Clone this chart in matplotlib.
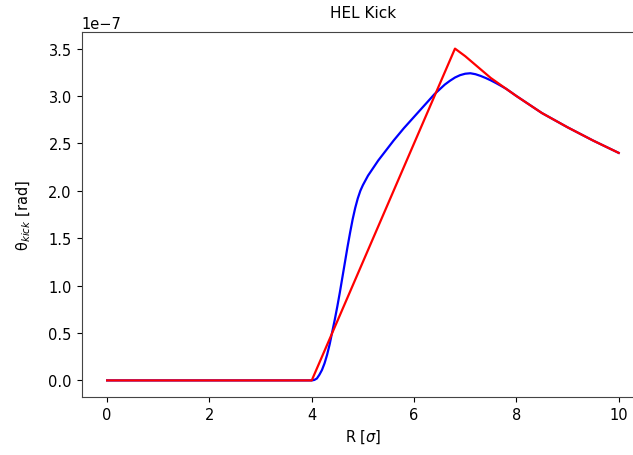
#!/usr/bin/env python3

import numpy as np
import matplotlib.pyplot as plt

# Blue curve (smooth kick), values in units of 1e-7 rad
r_blue = [0.0, 1.0, 2.0, 3.0, 4.0, 4.05, 4.1, 4.15, 4.2, 4.25, 4.3, 4.35, 4.4, 4.45,
          4.5, 4.55, 4.6, 4.65, 4.7, 4.75, 4.8, 4.85, 4.9, 4.95, 5.0, 5.1, 5.2,
          5.3, 5.4, 5.6, 5.8, 6.0, 6.2, 6.4, 6.6, 6.7, 6.8, 6.9, 7.0, 7.1, 7.2,
          7.3, 7.4, 7.5, 7.6, 7.7, 7.8, 8.0, 8.5, 9.0, 9.5, 10.0]
kick_blue = [0.0, 0.0, 0.0, 0.0, 0.0, 0.005, 0.02, 0.06, 0.11, 0.18, 0.27, 0.38, 0.51, 0.64,
             0.78, 0.93, 1.09, 1.25, 1.41, 1.56, 1.70, 1.82, 1.92, 2.00, 2.06, 2.16, 2.24,
             2.32, 2.39, 2.53, 2.66, 2.78, 2.90, 3.02, 3.12, 3.16, 3.195, 3.22, 3.235, 3.24, 3.23,
             3.212, 3.19, 3.165, 3.137, 3.107, 3.076, 3.00, 2.82, 2.67, 2.53, 2.40]

# Red curve (piecewise kick)
r_red = [0.0, 4.0, 6.8, 7.0, 7.5, 8.0, 8.5, 9.0, 9.5, 10.0]
kick_red = [0.0, 0.0, 3.50, 3.42, 3.19, 3.00, 2.82, 2.67, 2.53, 2.40]

scale = 1e-7

fig = plt.figure(figsize=(6.33, 4.56), dpi=100)
ax = fig.add_axes([0.1288, 0.1272, 0.889, 0.8004])

ax.plot(r_blue, np.array(kick_blue) * scale, color='b', lw=1.6)
ax.plot(r_red, np.array(kick_red) * scale, color='r', lw=1.6)

ax.set_title('HEL Kick', fontsize=11, pad=11)
ax.set_xlabel(r'R [$\sigma$]', fontsize=10.5)
ax.set_ylabel(r'θ$_{kick}$ [rad]', fontsize=10.5, labelpad=11)
ax.set_xticks([0, 2, 4, 6, 8, 10])
ax.set_yticks(np.arange(0, 3.6, 0.5) * scale)
ax.tick_params(labelsize=10.5)
ax.yaxis.get_offset_text().set_fontsize(10.5)
for s in ax.spines.values():
    s.set_color('#444444')

fig.savefig('out.png', dpi=100)
